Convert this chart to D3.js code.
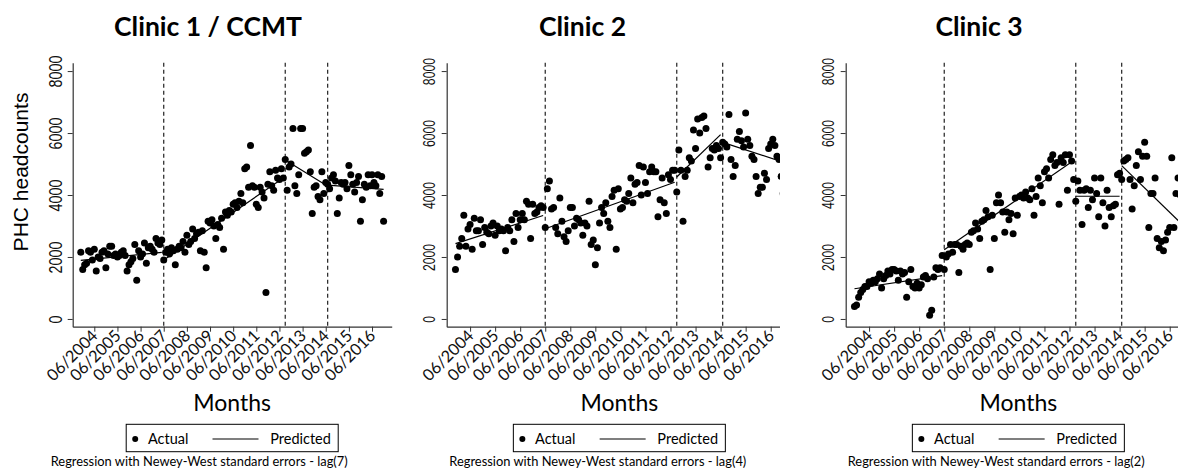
<!DOCTYPE html>
<html>
<head>
<meta charset="utf-8">
<script src="https://cdn.jsdelivr.net/npm/d3@7"></script>
<style>
body { margin: 0; background: #fff; }
svg { display: block; }
</style>
</head>
<body>
<script>
// month index: 0 = 01/2004; the series run 11/2003 (m=-2) .. 12/2016 (m=155)
var firstMonth = -2;
var tickMonths = [5, 17, 29, 41, 53, 65, 77, 89, 101, 113, 125, 137, 149];
var tickLabels = ["06/2004", "06/2005", "06/2006", "06/2007", "06/2008", "06/2009", "06/2010",
                  "06/2011", "06/2012", "06/2013", "06/2014", "06/2015", "06/2016"];
var breakMonths = [41, 104, 126];
var segStarts = [-2, 41, 104, 126];
var segEnds = [40, 103, 125, 155];
var yTicks = [0, 2000, 4000, 6000, 8000];

var titles = ["Clinic 1 / CCMT", "Clinic 2", "Clinic 3"];
var notes = ["Regression with Newey-West standard errors - lag(7)",
             "Regression with Newey-West standard errors - lag(4)",
             "Regression with Newey-West standard errors - lag(2)"];

var clinic1 = [
  2150,1600,1750,1800,2200,2150,1900,2250,1550,2000,
  1950,2150,2200,1650,2100,2350,2350,2050,2100,2000,
  2050,2150,2200,2050,1550,1750,1850,1950,2400,1250,
  2200,2000,2100,2450,1800,2300,2350,2250,2150,2600,
  2450,2400,2550,
  1900,2150,2250,2100,2300,2200,1750,2250,2350,2300,
  2500,2150,2700,2400,2500,2900,2600,2750,2800,2200,
  2850,2150,1650,3150,3100,3200,3000,2600,3050,2950,
  3250,2250,3450,3350,3500,3450,3700,3750,3600,
  3800,4050,3750,4850,4900,4250,5600,4300,4250,3700,
  3600,4250,4100,3900,850,4350,4750,4300,4150,4800,
  4550,4500,4850,4550,
  5150,4150,4900,5000,6150,4300,4050,4650,6150,6150,
  5350,5400,5450,4750,3400,4250,4300,3950,3850,4750,
  4050,4400,
  4350,4200,4550,4650,4450,3400,3900,4400,4350,4400,
  4200,4950,4650,4350,4100,4400,4600,3150,3850,4350,
  4250,4650,4300,4650,4400,4300,4650,4050,4600,3150
];

var clinic2 = [
  1600,2000,2350,2600,3350,2350,2900,3050,2250,3250,
  2850,2850,3200,2400,2950,2800,2750,3000,3100,2700,
  3000,2850,2900,2850,2200,2950,2850,3200,2500,3400,
  2950,3200,3400,3200,3800,3700,2600,3700,3400,3450,
  3600,3650,3600,
  2950,4200,4450,3550,3600,2950,2750,3900,3150,2650,
  2500,2850,3600,3600,3000,3250,3200,3100,2700,3100,
  3000,3800,2400,2550,1750,2300,3100,3600,3400,3750,
  3150,2950,3950,4150,2250,4200,3550,3600,3850,3800,
  4050,4550,3750,4350,4400,4950,4000,4900,4400,4050,
  4750,4900,4750,4750,3300,3850,4550,3750,3400,4650,
  4500,4800,4800,
  4100,5450,4800,3150,4600,4800,5200,5100,6100,5500,
  6450,6000,6500,6550,6150,4900,5200,5500,5450,5600,
  5500,5200,
  5700,5650,5550,6600,5150,4600,4950,5800,6050,5750,
  5550,6650,5800,5600,5250,5150,4600,4050,4250,4250,
  4700,4500,5500,5650,5800,5600,5250,5150,4600,4050
];

var clinic3 = [
  400,450,700,850,950,1050,1050,1200,1150,1250,
  1200,1300,1450,1000,1300,1400,1550,1450,1600,1600,
  1550,1250,1550,1450,1500,700,1200,1600,1050,1000,
  1150,1000,1100,1350,1400,1300,120,280,1350,1650,
  1600,1650,2050,
  1600,2000,2100,2400,2150,2400,2400,1500,2350,2250,
  2400,2450,2400,2800,2850,3100,2900,2600,3150,3200,
  3500,3300,1600,3350,2600,3750,4000,3750,3450,2800,
  3450,3200,3400,2750,3900,3350,3950,4000,3900,4100,
  3900,3850,4200,3350,3950,4550,4300,3750,4750,4850,
  4550,5150,5300,4950,5050,3700,5200,5050,5300,4150,
  5300,5100,4500,
  3800,4450,4150,3050,4150,4200,3600,4150,3850,4550,
  4050,3300,4550,3750,3000,4150,3600,3300,3650,3700,
  4650,4700,
  4500,5100,5150,5200,4500,3550,4300,4950,5400,4500,
  5250,5700,5250,2950,4050,4050,4550,2600,2300,2500,
  2200,2550,2800,2950,5200,2950,4050,4550,4000,3800
];

// predicted values at the start and end of each segment
var pred1 = [[1890, 2150], [1900, 4550], [5130, 4320], [4320, 4180]];
var pred2 = [[2430, 3340], [2910, 4410], [4580, 5950], [5700, 5060]];
var pred3 = [[975, 1400], [2230, 5110], [3960, 3960], [4950, 3050]];

var panels = [
  { data: clinic1, pred: pred1, x0: 72.7, x1: 391.7, clipL: 0, clipR: 395, titleX: 208, noteX: 50.7,
    ytitle: true, ylab: 14.4, ystretch: 1.29, ylabOff: 11 },
  { data: clinic2, pred: pred2, x0: 446.7, x1: 792, clipL: 395, clipR: 780, titleX: 582.5, noteX: 449.3,
    ytitle: false, ylab: 12.2, ystretch: 1.34, ylabOff: 11.5 },
  { data: clinic3, pred: pred3, x0: 845.7, x1: 1191, clipL: 780, clipR: 1178, titleX: 979, noteX: 847.7,
    ytitle: false, ylab: 12.2, ystretch: 1.34, ylabOff: 11.5 }
];

var width = 1178, height = 473;
var calibri = "Lato, 'Open Sans', sans-serif";
var arial = "'Liberation Sans', Arial, sans-serif";

var svg = d3.select("body").append("svg")
  .attr("width", width)
  .attr("height", height);

var y = d3.scaleLinear().domain([-250, 8270]).range([326.7, 62.7]);

panels.forEach(function(p, k) {
  var x = d3.scaleLinear().domain([-6.2, 159.2]).range([p.x0, p.x1]);

  svg.append("clipPath").attr("id", "clip" + k)
    .append("rect")
    .attr("x", p.clipL).attr("y", 0)
    .attr("width", p.clipR - p.clipL).attr("height", height);

  var g = svg.append("g").attr("clip-path", "url(#clip" + k + ")");

  // title
  g.append("text")
    .attr("x", p.titleX).attr("y", 36)
    .attr("text-anchor", "middle")
    .style("font-family", calibri)
    .style("font-weight", "bold")
    .style("font-size", "26.5px")
    .text(titles[k]);

  // y axis
  var yAxis = g.append("g")
    .attr("transform", "translate(" + p.x0 + ",0)")
    .call(d3.axisLeft(y).tickValues(yTicks).tickFormat(d3.format("d"))
      .tickSize(5).tickSizeOuter(0));
  yAxis.select(".domain").attr("stroke", "#333").attr("stroke-width", 1.2);
  yAxis.selectAll(".tick line").attr("stroke", "#333");
  yAxis.selectAll(".tick text")
    .attr("x", null).attr("dy", null)
    .attr("transform", "translate(" + (-p.ylabOff) + ",0) rotate(-90) scale(1," + p.ystretch + ")")
    .attr("text-anchor", "middle")
    .attr("fill", "#111")
    .style("font-family", arial)
    .style("font-size", p.ylab + "px");

  // x axis
  var xAxis = g.append("g")
    .attr("transform", "translate(0,326.7)")
    .call(d3.axisBottom(x).tickValues(tickMonths)
      .tickFormat(function(d, i) { return tickLabels[i]; })
      .tickSize(5).tickSizeOuter(0));
  xAxis.select(".domain").attr("stroke", "#333").attr("stroke-width", 1.2);
  xAxis.selectAll(".tick line").attr("stroke", "#333");
  xAxis.selectAll(".tick text")
    .attr("y", null).attr("dy", null)
    .attr("transform", "translate(4,10) rotate(-45)")
    .attr("text-anchor", "end")
    .attr("fill", "#111")
    .style("font-family", calibri)
    .style("font-size", "16.3px");

  // intervention lines
  g.selectAll(".brk").data(breakMonths).enter()
    .append("line")
    .attr("x1", function(d) { return x(d); })
    .attr("x2", function(d) { return x(d); })
    .attr("y1", y.range()[1]).attr("y2", y.range()[0])
    .attr("stroke", "#222")
    .attr("stroke-width", 1.2)
    .attr("stroke-dasharray", "4,3");

  // actual
  g.selectAll(".pt").data(p.data).enter()
    .append("circle")
    .attr("cx", function(d, i) { return x(firstMonth + i); })
    .attr("cy", function(d) { return y(d); })
    .attr("r", 3.5)
    .attr("fill", "#000");

  // predicted
  var line = d3.line().x(function(d) { return x(d[0]); }).y(function(d) { return y(d[1]); });
  p.pred.forEach(function(s, j) {
    g.append("path")
      .attr("d", line([[segStarts[j], s[0]], [segEnds[j], s[1]]]))
      .attr("fill", "none")
      .attr("stroke", "#000")
      .attr("stroke-width", 1.2);
  });

  var cx = (p.x0 + p.x1) / 2;

  if (p.ytitle) {
    g.append("text")
      .attr("transform", "translate(28,172) rotate(-90)")
      .attr("text-anchor", "middle")
      .style("font-family", arial)
      .style("font-size", "21px")
      .text("PHC headcounts");
  }

  g.append("text")
    .attr("x", cx).attr("y", 410.7)
    .attr("text-anchor", "middle")
    .style("font-family", calibri)
    .style("font-size", "23px")
    .text("Months");

  // legend
  var lg = g.append("g").attr("transform", "translate(" + (cx - 106) + ",424.3)");
  lg.append("rect").attr("width", 212).attr("height", 27.4)
    .attr("fill", "#fff").attr("stroke", "#000").attr("stroke-width", 1);
  lg.append("circle").attr("cx", 9).attr("cy", 14.7).attr("r", 3).attr("fill", "#000");
  lg.append("text").attr("x", 21.7).attr("y", 19.7)
    .style("font-family", calibri).style("font-size", "14.5px").text("Actual");
  lg.append("line").attr("x1", 86.3).attr("x2", 132.3).attr("y1", 14.7).attr("y2", 14.7)
    .attr("stroke", "#000").attr("stroke-width", 1.2);
  lg.append("text").attr("x", 144).attr("y", 19.7)
    .style("font-family", calibri).style("font-size", "14.5px").text("Predicted");

  g.append("text")
    .attr("x", p.noteX).attr("y", 465.5)
    .attr("textLength", 297)
    .attr("lengthAdjust", "spacingAndGlyphs")
    .style("font-family", calibri)
    .style("font-size", "13px")
    .text(notes[k]);
});
</script>
</body>
</html>
